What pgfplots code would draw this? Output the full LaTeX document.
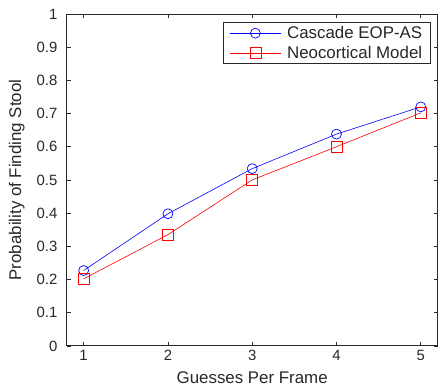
\documentclass[border=0pt]{standalone}
\usepackage{pgfplots}
\pgfplotsset{compat=1.18}
\usepackage{fontspec}
\setmainfont{Liberation Sans}
\definecolor{axgray}{RGB}{40,40,40}
\begin{document}
\begin{tikzpicture}
\begin{axis}[
  name=ax,
  at={(0,0)}, anchor=south west,
  scale only axis,
  width=372bp, height=333bp,
  xmin=0.8, xmax=5.2, ymin=0, ymax=1,
  xtick={1,2,3,4,5},
  ytick={0,0.1,...,1.0},
  yticklabels={0,0.1,0.2,0.3,0.4,0.5,0.6,0.7,0.8,0.9,1},
  tick align=inside,
  major tick length=4bp,
  axis line style={axgray, line width=0.8pt},
  every tick/.style={axgray, line width=0.6pt},
  tick label style={font=\fontsize{15}{17}\selectfont, text=axgray},
  yticklabel style={xshift=-6bp},
  xticklabel style={yshift=-1bp},
  /pgf/number format/assume math mode=true,
  label style={font=\fontsize{17}{19}\selectfont, text=axgray},
  xlabel={Guesses Per Frame},
  ylabel={Probability of Finding Stool},
  xlabel style={at={(axis description cs:0.5,-0.096)}, anchor=center},
  ylabel style={at={(axis description cs:-0.135,0.5)}, anchor=center},
  legend style={at={(0.981,0.976)}, anchor=north east,
    draw=axgray, line width=0.8pt,
    font=\fontsize{17}{19}\selectfont, text=axgray,
    inner xsep=6bp, inner ysep=2bp, row sep=2bp, column sep=4bp,
    cells={anchor=west}},
  legend image code/.code={
    \draw[#1] (0bp,0bp) -- (51bp,0bp);
    \draw[#1, only marks] plot coordinates {(25.5bp,0bp)};
  },
]
\addplot[blue, line width=0.6pt, mark=o, mark size=5bp, mark options={line width=0.7pt}]
  coordinates {(1,0.227) (2,0.398) (3,0.534) (4,0.638) (5,0.720)};
\addlegendentry{Cascade EOP-AS}
\addplot[red, line width=0.6pt, mark=square, mark size=5.5bp, mark options={line width=0.7pt}]
  coordinates {(1,0.202) (2,0.335) (3,0.500) (4,0.600) (5,0.702)};
\addlegendentry{Neocortical Model}
\end{axis}
\path[use as bounding box] (-67bp,-41bp) rectangle (371bp,347bp);
\end{tikzpicture}
\end{document}
